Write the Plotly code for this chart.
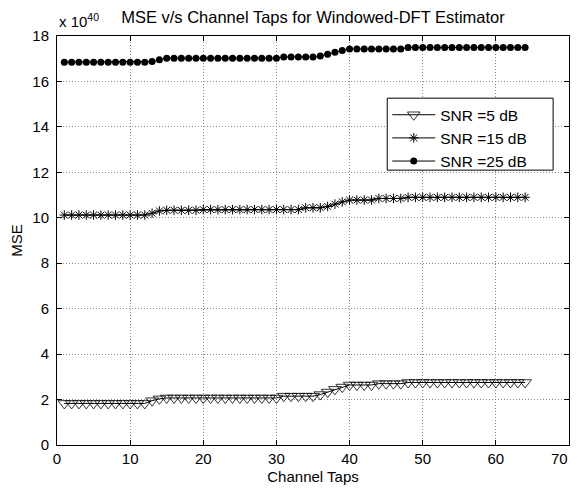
import plotly.graph_objects as go

taps = list(range(1, 65))

snr5 = [1.83, 1.83, 1.83, 1.83, 1.83, 1.83, 1.83, 1.83, 1.83, 1.83, 1.83, 1.83,
        1.95, 2.03,
        2.07, 2.07, 2.07, 2.07, 2.07, 2.07, 2.07, 2.07, 2.07, 2.07, 2.07, 2.07, 2.07, 2.07, 2.07, 2.07,
        2.15, 2.15, 2.15, 2.15, 2.15,
        2.22, 2.33, 2.45, 2.55,
        2.64, 2.64, 2.64, 2.64,
        2.70, 2.70, 2.70, 2.70,
        2.75, 2.75, 2.75, 2.75, 2.75, 2.75, 2.75, 2.75, 2.75, 2.75, 2.75, 2.75, 2.75, 2.75, 2.75, 2.75, 2.75]

snr15 = [10.12, 10.12, 10.12, 10.12, 10.12, 10.12, 10.12, 10.12, 10.12, 10.12, 10.12, 10.12,
         10.20, 10.30,
         10.33, 10.33, 10.33, 10.33, 10.33,
         10.36, 10.36, 10.36, 10.36, 10.36, 10.36, 10.36, 10.36, 10.36, 10.36, 10.36, 10.36, 10.36, 10.36,
         10.44, 10.44, 10.44,
         10.50, 10.60, 10.70,
         10.78, 10.78, 10.78, 10.78,
         10.85, 10.85, 10.85, 10.85,
         10.90, 10.90, 10.90, 10.90, 10.90, 10.90, 10.90, 10.90, 10.90, 10.90, 10.90, 10.90, 10.90, 10.90, 10.90, 10.90, 10.90]

snr25 = [16.85, 16.85, 16.85, 16.85, 16.85, 16.85, 16.85, 16.85, 16.85, 16.85, 16.85, 16.85,
         16.88, 16.95,
         17.02, 17.02, 17.02, 17.02, 17.02, 17.02, 17.02, 17.02, 17.02, 17.02, 17.02, 17.02, 17.02, 17.02, 17.02, 17.02,
         17.08, 17.08, 17.08, 17.08, 17.08,
         17.12, 17.20, 17.28, 17.36,
         17.43, 17.43, 17.43, 17.43, 17.43, 17.43, 17.43, 17.43,
         17.49, 17.49, 17.49, 17.49, 17.49, 17.49, 17.49, 17.49, 17.49, 17.49, 17.49, 17.49, 17.49, 17.49, 17.49, 17.49, 17.49]

names = ["SNR =5 dB", "SNR =15 dB", "SNR =25 dB"]

x_tickvals = [0, 10, 20, 30, 40, 50, 60, 70]
x_ticktext = ["0", "10", "20", "30", "40", "50", "60", "70"]

FONT = "Liberation Sans, Arial, sans-serif"

fig = go.Figure()
fig.add_trace(go.Scatter(x=taps, y=snr5, name=names[0], mode="lines+markers",
                         line=dict(color="black", width=1),
                         marker=dict(symbol="triangle-down-open", size=11, color="black",
                                     line=dict(width=0.8, color="black"))))
fig.add_trace(go.Scatter(x=taps, y=snr15, name=names[1], mode="lines+markers",
                         line=dict(color="black", width=1),
                         marker=dict(symbol="asterisk-open", size=8, color="black",
                                     line=dict(width=1, color="black"))))
fig.add_trace(go.Scatter(x=taps, y=snr25, name=names[2], mode="lines+markers",
                         line=dict(color="black", width=1),
                         marker=dict(symbol="circle", size=7, color="black")))

axis_common = dict(showline=True, linecolor="black", linewidth=1, mirror="ticks",
                   ticks="inside", ticklen=5, tickcolor="black",
                   showgrid=True, gridcolor="#8a8a8a", griddash="1px,2px", gridwidth=1,
                   zeroline=False, ticklabeloverflow="allow",
                   tickfont=dict(family=FONT, size=15, color="black"))

# last tick label is placed as an annotation (right-aligned) so it is not cut at the page edge
fig.update_xaxes(range=[0, 70], tickmode="array", tickvals=x_tickvals,
                 ticktext=x_ticktext[:-1] + [""],
                 title=dict(text="Channel Taps", font=dict(family=FONT, size=15, color="black"), standoff=16),
                 **axis_common)
fig.update_yaxes(range=[0, 18], dtick=2, tick0=0, ticklabelstandoff=4,
                 title=dict(text="MSE", font=dict(family=FONT, size=15, color="black"), standoff=10),
                 **axis_common)

fig.add_annotation(text=x_ticktext[-1], xref="x", yref="paper", x=x_tickvals[-1], y=0,
                   xanchor="right", yanchor="top", yshift=-3, xshift=1, showarrow=False,
                   font=dict(family=FONT, size=15, color="black"))

# legend frame (drawn as a shape so its size matches the reference box)
fig.add_shape(type="rect", xref="paper", yref="paper", x0=0.645, x1=0.969, y0=0.672, y1=0.848,
              line=dict(color="black", width=1), fillcolor="white", layer="above")

# page body adds an 8px offset; figure is sized so the plot area lands where the reference has it
fig.update_layout(
    autosize=False,
    width=570, height=477,
    margin=dict(l=49, r=9, t=28, b=40, autoexpand=False),
    paper_bgcolor="white", plot_bgcolor="white",
    font=dict(family=FONT, size=15, color="black"),
    title=dict(text="MSE v/s Channel Taps for Windowed-DFT Estimator", x=0.535, xanchor="center",
               xref="container", yref="container",
               y=0.981, yanchor="middle", font=dict(family=FONT, size=16.5, color="black")),
    legend=dict(x=0.645, y=0.848, xanchor="left", yanchor="top",
                borderwidth=0, bgcolor="rgba(0,0,0,0)",
                font=dict(family=FONT, size=15.5, color="black"), itemwidth=43),
    showlegend=True,
)

fig.add_annotation(text="x 10<sup>40</sup>", xref="paper", yref="paper", x=0.0, y=1.0,
                   xanchor="left", yanchor="bottom", showarrow=False, yshift=4,
                   font=dict(family=FONT, size=15, color="black"))

fig.write_html("out.html")
